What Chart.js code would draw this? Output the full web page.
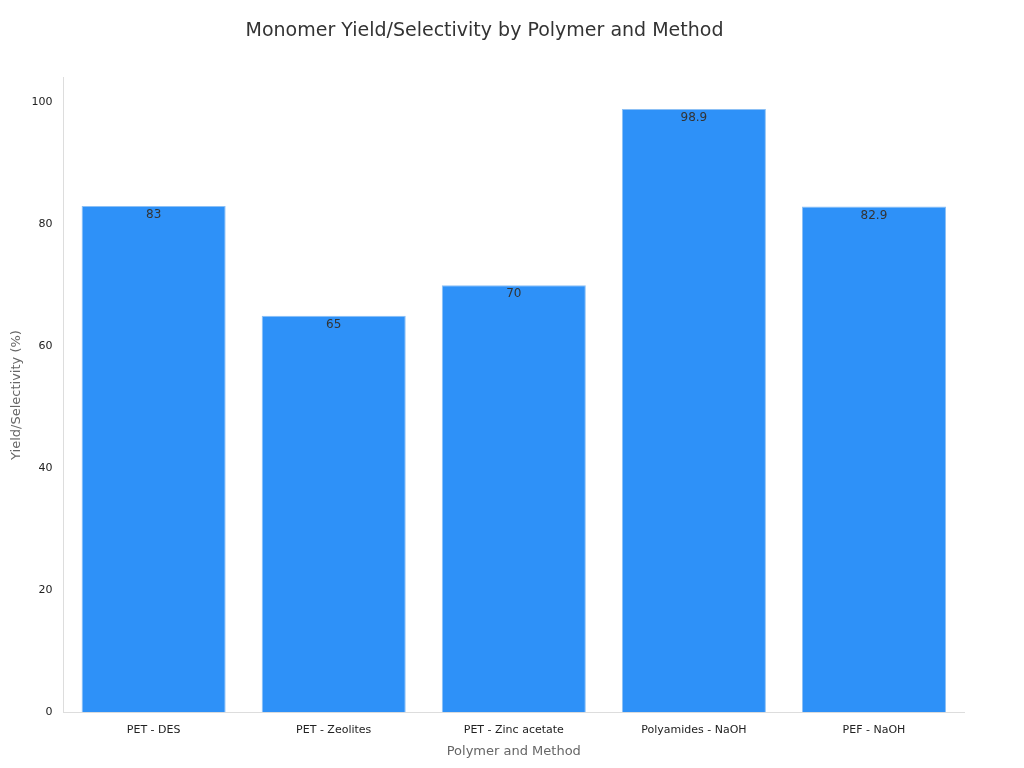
<!DOCTYPE html>
<html><head><meta charset="utf-8">
<script src="https://cdn.jsdelivr.net/npm/chart.js@4/dist/chart.umd.min.js"></script>
<style>body{margin:0;background:#fff}#w{width:1024px;height:768px}</style>
</head><body><div id="w"><canvas id="c"></canvas></div>
<script>
const categories = ["PET - DES","PET - Zeolites","PET - Zinc acetate","Polyamides - NaOH","PEF - NaOH"];
const values = [83,65,70,98.9,82.9];
Chart.defaults.font.family = "DejaVu Sans";
const labelPlugin = {id:'lbl',afterDatasetsDraw(ch){const c=ch.ctx;const m=ch.getDatasetMeta(0);c.save();c.font='12px DejaVu Sans';c.fillStyle='#333';c.textAlign='center';c.textBaseline='top';m.data.forEach((b,i)=>c.fillText(String(values[i]),b.x,b.y+3));c.restore();}};
new Chart(document.getElementById('c'),{type:'bar',
data:{labels:categories,datasets:[{data:values,backgroundColor:'#2e91f8',borderColor:'#8cc0f5',borderWidth:1,barPercentage:0.8,categoryPercentage:1}]},
options:{responsive:true,maintainAspectRatio:false,animation:false,
layout:{padding:{left:5,right:60,top:10,bottom:5}},
plugins:{legend:{display:false},tooltip:{enabled:false},
title:{display:true,text:'Monomer Yield/Selectivity by Polymer and Method',color:'#333',font:{size:19,weight:'normal'},padding:{top:10,bottom:35}}},
scales:{x:{grid:{display:false,drawTicks:true},border:{color:'#ddd'},ticks:{color:'#222',font:{size:11}},
title:{display:true,text:'Polymer and Method',color:'#666',font:{size:13}}},
y:{min:0,max:104,grid:{display:false},border:{color:'#ddd'},ticks:{stepSize:20,color:'#222',font:{size:11},callback:v=>v%20===0?v:''},
title:{display:true,text:'Yield/Selectivity (%)',color:'#666',font:{size:13}}}}},
plugins:[labelPlugin]});
</script></body></html>
